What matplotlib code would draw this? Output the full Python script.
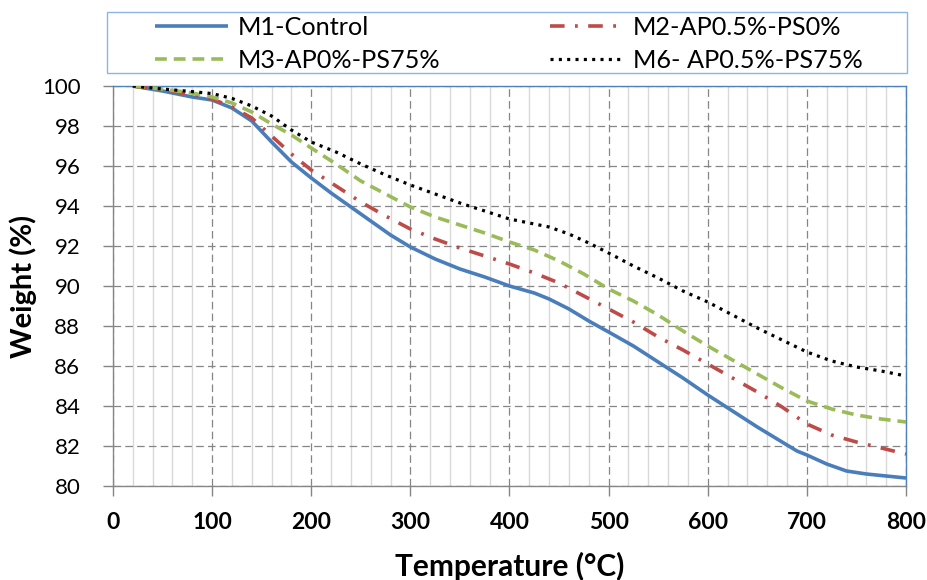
import matplotlib
matplotlib.use("Agg")
import matplotlib.pyplot as plt
from matplotlib.patches import Rectangle
from matplotlib.ticker import MultipleLocator

plt.rcParams['font.family'] = ['Lato', 'DejaVu Sans']
plt.rcParams['lines.scale_dashes'] = False

# ---- data ----
temp_m1 = [20, 50, 80, 100, 120, 140, 160, 180, 200, 220, 240, 260, 280, 300, 325, 350, 375, 400,
           425, 440, 460, 480, 500, 525, 550, 575, 600, 625, 650, 675, 690, 700, 720, 740, 760, 780, 800]
m1 = [100, 99.75, 99.45, 99.3, 98.9, 98.25, 97.2, 96.2, 95.4, 94.65, 93.95, 93.25, 92.55, 91.95,
      91.35, 90.85, 90.45, 90.0, 89.65, 89.35, 88.85, 88.25, 87.7, 87.0, 86.2, 85.4, 84.55, 83.75,
      82.95, 82.2, 81.75, 81.55, 81.1, 80.75, 80.6, 80.5, 80.4]

temp_m2 = [20, 50, 80, 100, 120, 140, 160, 180, 200, 225, 250, 275, 300, 325, 350, 375, 400,
           425, 450, 475, 500, 525, 550, 575, 600, 625, 650, 675, 700, 725, 750, 775, 800]
m2 = [100, 99.8, 99.55, 99.35, 98.95, 98.4, 97.5, 96.6, 95.8, 95.0, 94.2, 93.5, 92.85, 92.35,
      91.9, 91.5, 91.1, 90.65, 90.15, 89.5, 88.85, 88.2, 87.45, 86.8, 86.1, 85.4, 84.7, 83.95,
      83.1, 82.55, 82.2, 81.9, 81.6]

temp_m3 = [20, 50, 80, 100, 120, 140, 160, 180, 200, 225, 250, 275, 300, 325, 350, 375, 400,
           425, 450, 475, 500, 525, 550, 575, 600, 625, 650, 675, 700, 725, 750, 775, 800]
m3 = [100, 99.85, 99.65, 99.45, 99.15, 98.7, 98.1, 97.55, 96.9, 96.1, 95.25, 94.6, 93.95, 93.45,
      93.05, 92.65, 92.2, 91.8, 91.25, 90.6, 89.85, 89.25, 88.55, 87.75, 87.0, 86.3, 85.6, 84.9,
      84.25, 83.85, 83.55, 83.35, 83.2]

temp_m6 = [20, 50, 80, 100, 120, 140, 160, 180, 200, 225, 250, 275, 300, 325, 350, 375, 400,
           425, 440, 460, 480, 500, 525, 550, 575, 600, 625, 650, 675, 700, 725, 750, 775, 800]
m6 = [100, 99.85, 99.72, 99.62, 99.38, 99.0, 98.5, 97.8, 97.2, 96.7, 96.1, 95.55, 95.05, 94.6,
      94.15, 93.75, 93.35, 93.1, 92.95, 92.6, 92.15, 91.65, 91.0, 90.4, 89.75, 89.2, 88.55, 87.9,
      87.3, 86.7, 86.25, 85.95, 85.75, 85.5]

labels = ["M1-Control", "M2-AP0.5%-PS0%", "M3-AP0%-PS75%", "M6- AP0.5%-PS75%"]
x_ticks = [0, 100, 200, 300, 400, 500, 600, 700, 800]
y_ticks = [80, 82, 84, 86, 88, 90, 92, 94, 96, 98, 100]

# ---- figure ----
fig = plt.figure(figsize=(9.28, 5.8), dpi=100)
W, H = 928, 580
ax = fig.add_axes([113 / W, 1 - 486 / H, (906 - 113) / W, (486 - 86) / H])

ax.set_xlim(0, 800)
ax.set_ylim(80, 100)
ax.set_xticks(x_ticks)
ax.set_yticks(y_ticks)
ax.xaxis.set_minor_locator(MultipleLocator(20))

# grid
ax.grid(which='minor', axis='x', color='#D9D9D9', lw=1.0, ls='-', zorder=0)
ax.grid(which='major', axis='both', color='#868686', lw=0.9, ls=(0, (5.5, 3)), zorder=1)
ax.set_axisbelow(True)

lw = 2.6
l1, = ax.plot(temp_m1, m1, color='#4A7EBB', lw=lw, ls='-', solid_capstyle='butt',
              solid_joinstyle='round', zorder=3)
l2, = ax.plot(temp_m2, m2, color='#BE4B48', lw=lw, ls=(0, (10.5, 7.5, 2, 7.5)), zorder=3)
l3, = ax.plot(temp_m3, m3, color='#9BBB59', lw=lw, ls=(0, (8.5, 5)), zorder=3)
l6, = ax.plot(temp_m6, m6, color='#000000', lw=2.3, ls=(0, (2.2, 3.8)), zorder=4)

# spines
for s in ['left', 'bottom']:
    ax.spines[s].set_color('#868686')
    ax.spines[s].set_linewidth(1.0)
for s in ['top', 'right']:
    ax.spines[s].set_color('#4F81BD')
    ax.spines[s].set_linewidth(1.0)

ax.tick_params(axis='y', which='major', direction='out', length=7.5, width=1, color='#868686',
               labelsize=16, pad=16, labelcolor='#000000')
ax.tick_params(axis='x', which='major', direction='out', length=7.5, width=1, color='#868686',
               labelsize=16.5, pad=11)
ax.tick_params(axis='x', which='minor', length=0)
for t in ax.get_xticklabels():
    t.set_fontweight('bold')

ax.set_xlabel('Temperature (°C)', fontsize=21.5, fontweight='bold', labelpad=14)
ax.set_ylabel('Weight (%)', fontsize=21, fontweight='bold')
ax.yaxis.set_label_coords(-(113 - 37) / (906 - 113), 0.5)

# legend (row-wise order: M1, M2 / M3, M6)
leg = fig.legend([l1, l3, l2, l6], [labels[0], labels[2], labels[1], labels[3]], ncol=2,
                 frameon=False, loc='upper left', bbox_to_anchor=(155 / W, 1 - 16 / H),
                 fontsize=18.2, handlelength=2.9, handletextpad=0.36,
                 columnspacing=4.37, labelspacing=0.40, borderpad=0.0, borderaxespad=0.0)
fig.add_artist(Rectangle((107 / W, 1 - 73 / H), 800 / W, 61 / H, transform=fig.transFigure,
                         fill=False, edgecolor='#8EB4E3', lw=1.0))

fig.savefig('out.png', dpi=100)
